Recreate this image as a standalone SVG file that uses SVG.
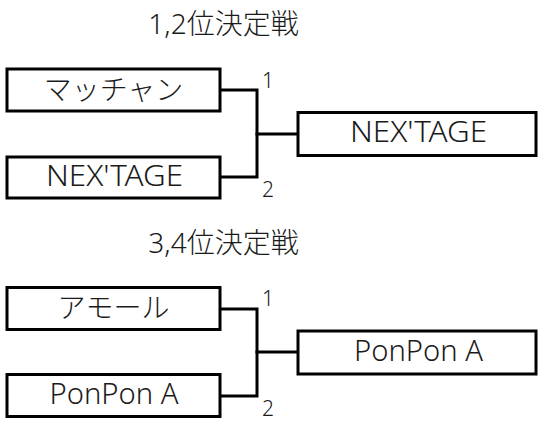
<svg xmlns="http://www.w3.org/2000/svg" width="542" height="428" viewBox="0 0 542 428">
<style>
  .box { fill: #ffffff; stroke: #000000; stroke-width: 3; }
  .lbl { font-family: "Noto Sans", "Noto Sans CJK JP", sans-serif; font-size: 28px; font-weight: 300; fill: #1a1a1a; text-anchor: middle; }
  .lat { font-size: 29px; }
  .num { font-family: "Noto Sans", "Noto Sans CJK JP", sans-serif; font-size: 21px; font-weight: 300; fill: #1a1a1a; }
  .conn { fill: none; stroke: #000000; stroke-width: 3; stroke-linejoin: miter; stroke-linecap: square; }
</style>
<rect width="542" height="428" fill="#ffffff"/>
<g id="title1"><text class="lbl" x="223.5" y="34">1,2位決定戦</text></g>
<g id="title2"><text class="lbl" x="223.5" y="253">3,4位決定戦</text></g>

<g id="connectors">
  <path class="conn" d="M222,90 H257 V177 H222"/>
  <path class="conn" d="M257,134 H296"/>
  <path class="conn" d="M222,309 H257 V396 H222"/>
  <path class="conn" d="M257,352 H296"/>
  <text class="num" x="262" y="88">1</text>
  <text class="num" x="262" y="197">2</text>
  <text class="num" x="262" y="306">1</text>
  <text class="num" x="262" y="416">2</text>
</g>

<g id="node-a1"><rect class="box" x="7" y="69" width="213" height="42"/><text class="lbl" x="113.5" y="100">マッチャン</text></g>
<g id="node-a2"><rect class="box" x="7" y="157" width="213" height="41"/><text class="lbl lat" x="114.5" y="186" textLength="137" lengthAdjust="spacingAndGlyphs">NEX'TAGE</text></g>
<g id="node-a3"><rect class="box" x="298" y="112.5" width="238" height="43"/><text class="lbl lat" x="418.5" y="141.5" textLength="137" lengthAdjust="spacingAndGlyphs">NEX'TAGE</text></g>

<g id="node-b1"><rect class="box" x="7" y="287.5" width="213" height="42"/><text class="lbl" x="113.5" y="318">アモール</text></g>
<g id="node-b2"><rect class="box" x="7" y="374.5" width="213" height="42"/><text class="lbl lat" x="114" y="404" textLength="129" lengthAdjust="spacingAndGlyphs">PonPon A</text></g>
<g id="node-b3"><rect class="box" x="298" y="331" width="238" height="43"/><text class="lbl lat" x="418.5" y="361" textLength="129" lengthAdjust="spacingAndGlyphs">PonPon A</text></g>
</svg>
